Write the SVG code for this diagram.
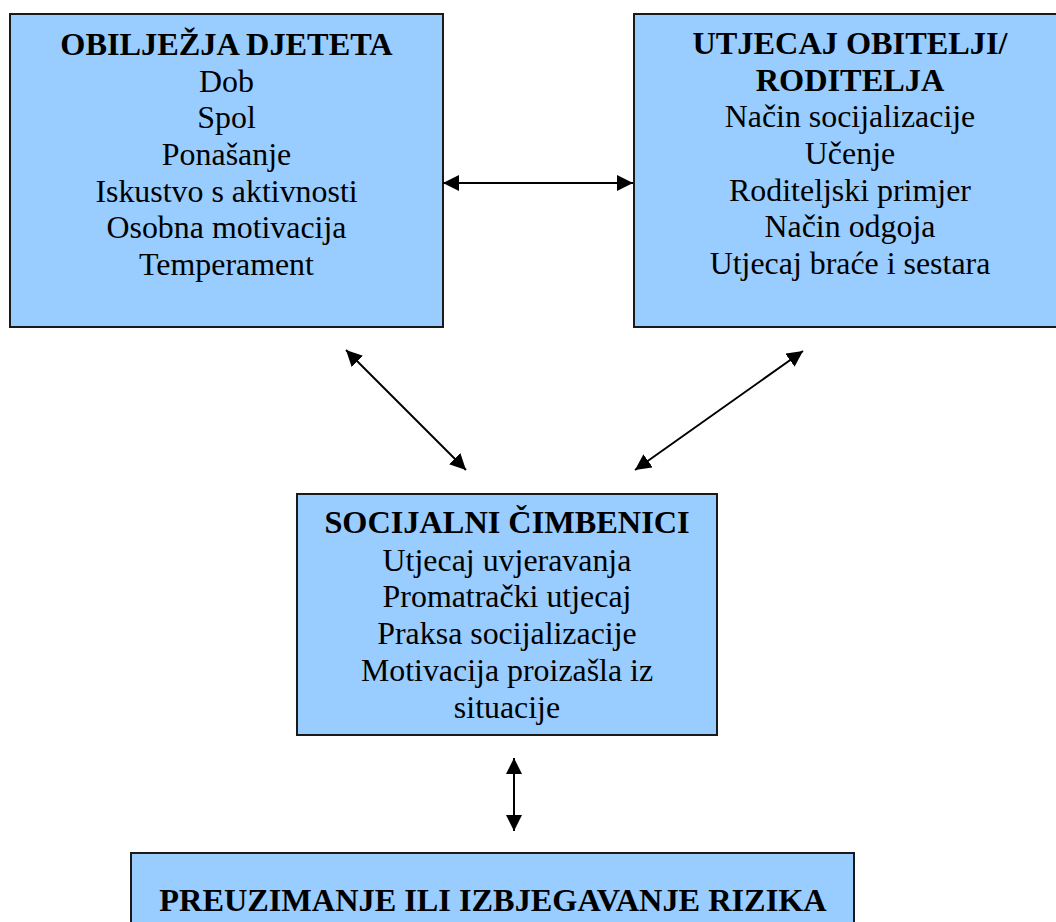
<svg xmlns="http://www.w3.org/2000/svg" width="1056" height="922" viewBox="0 0 1056 922">
<style>
.box{fill:#99CCFF;stroke:#1a1a1a;stroke-width:2}
text{font-family:"Liberation Serif","Times New Roman",serif;font-size:31.9px;fill:#000;text-anchor:middle}
.h{font-weight:bold;font-size:32.3px}
.c{stroke:#000;stroke-width:2;fill:none;marker-start:url(#ah);marker-end:url(#ah)}
</style>
<defs>
<marker id="ah" markerUnits="userSpaceOnUse" markerWidth="17" markerHeight="17" refX="16" refY="8" orient="auto-start-reverse">
<path d="M0,0 L16,8 L0,16 z" fill="#000"/>
</marker>
</defs>
<rect width="1056" height="922" fill="#fff"/>
<g id="n1">
<rect class="box" x="10" y="14" width="433" height="313"/>
<text class="h" x="226.5" y="55">OBILJEŽJA DJETETA</text>
<text x="226.5" y="92">Dob</text>
<text x="226.5" y="128">Spol</text>
<text x="226.5" y="165">Ponašanje</text>
<text x="226.5" y="202">Iskustvo s aktivnosti</text>
<text x="226.5" y="238">Osobna motivacija</text>
<text x="226.5" y="275">Temperament</text>
</g>
<g id="n2">
<rect class="box" x="634" y="14" width="433" height="313"/>
<text class="h" x="850" y="54">UTJECAJ OBITELJI/</text>
<text class="h" x="850" y="91">RODITELJA</text>
<text x="850" y="127">Način socijalizacije</text>
<text x="850" y="164">Učenje</text>
<text x="850" y="201">Roditeljski primjer</text>
<text x="850" y="237">Način odgoja</text>
<text x="850" y="274">Utjecaj braće i sestara</text>
</g>
<g id="n3">
<rect class="box" x="297" y="494" width="420" height="241"/>
<text class="h" x="507" y="533">SOCIJALNI ČIMBENICI</text>
<text x="507" y="571">Utjecaj uvjeravanja</text>
<text x="507" y="607">Promatrački utjecaj</text>
<text x="507" y="644">Praksa socijalizacije</text>
<text x="507" y="681">Motivacija proizašla iz</text>
<text x="507" y="718">situacije</text>
</g>
<g id="n4">
<rect class="box" x="131" y="853" width="723" height="80"/>
<text class="h" x="493" y="911">PREUZIMANJE ILI IZBJEGAVANJE RIZIKA</text>
</g>
<g id="connectors">
<line class="c" x1="443" y1="183" x2="633" y2="183"/>
<line class="c" x1="346" y1="350" x2="466" y2="470"/>
<line class="c" x1="803" y1="351" x2="635" y2="470"/>
<line class="c" x1="514" y1="758" x2="514" y2="831"/>
</g>
</svg>
